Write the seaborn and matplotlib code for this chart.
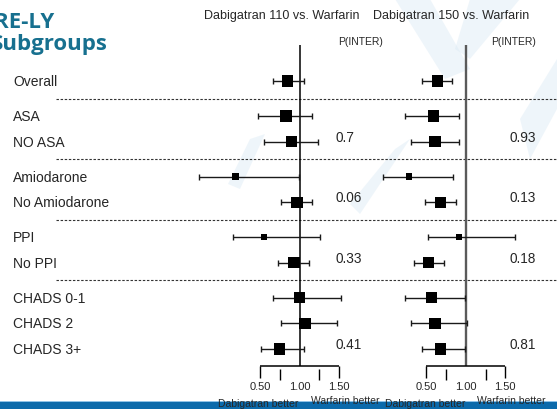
import numpy as np
import pandas as pd
import matplotlib
matplotlib.use("Agg")
import matplotlib.pyplot as plt
from matplotlib.patches import Rectangle, Polygon
import seaborn as sns

# ---- data ----------------------------------------------------------------
subgroups = ["Overall", "ASA", "NO ASA", "Amiodarone", "No Amiodarone",
             "PPI", "No PPI", "CHADS 0-1", "CHADS 2", "CHADS 3+"]
group_id = [0, 1, 1, 2, 2, 3, 3, 4, 4, 4]
box_class = ["large", "large", "large", "small", "large",
             "small", "large", "large", "large", "large"]

d110_est = [0.85, 0.83, 0.90, 0.19, 0.97, 0.55, 0.93, 1.00, 1.07, 0.75]
d110_lo = [0.66, 0.48, 0.55, -0.27, 0.77, 0.16, 0.73, 0.66, 0.76, 0.51]
d110_hi = [1.06, 1.16, 1.23, 0.99, 1.16, 1.26, 1.12, 1.52, 1.47, 1.06]

d150_est = [0.64, 0.59, 0.61, 0.28, 0.68, 0.91, 0.53, 0.57, 0.61, 0.68]
d150_lo = [0.45, 0.23, 0.30, -0.05, 0.48, 0.52, 0.34, 0.23, 0.30, 0.45]
d150_hi = [0.83, 0.91, 0.91, 0.84, 0.88, 1.62, 0.73, 0.99, 1.02, 0.99]

p_groups = [1, 2, 3, 4]
p_inter_110 = ["0.7", "0.06", "0.33", "0.41"]
p_inter_150 = ["0.93", "0.13", "0.18", "0.81"]

panel_titles = ["Dabigatran 110 vs. Warfarin", "Dabigatran 150 vs. Warfarin"]
tick_values = [0.50, 1.00, 1.50]
tick_labels = ["0.50", "1.00", "1.50"]
minor_ticks = [0.75, 1.25]

# ---- style ---------------------------------------------------------------
sns.set_style("white")
plt.rcParams["font.family"] = ["Liberation Sans", "DejaVu Sans"]

W, H = 557, 410
fig = plt.figure(figsize=(W / 100, H / 100), dpi=100)
fig.patch.set_facecolor("white")

# layout: row positions (figure pixels from top)
row_step, group_gap, top_row = 25.6, 9.4, 82.0
ypos = np.array([top_row + i * row_step + g * group_gap
                 for i, g in enumerate(group_id)])

# background / annotation layer in pixel units
bg = fig.add_axes([0, 0, 1, 1])
bg.set_xlim(0, W)
bg.set_ylim(H, 0)
bg.axis("off")

# faint decorative streaks of the slide background
streaks = [
    [(395, 0), (430, 0), (470, 70), (445, 80)],
    [(470, 0), (520, 0), (470, 60), (455, 50)],
    [(395, 150), (410, 140), (360, 215), (350, 205)],
    [(520, 120), (557, 60), (557, 110), (530, 160)],
    [(250, 140), (265, 135), (240, 190), (228, 185)],
]
for pts in streaks:
    bg.add_patch(Polygon(pts, closed=True, color="#dbeaf5", alpha=0.45,
                         lw=0, zorder=0))

# bottom blue band
bg.add_patch(Rectangle((0, 402.5), W, 8, color="#0b6aab", lw=0, zorder=1))
bg.add_patch(Rectangle((0, 402.0), W, 1.2, color="#8fc3e8", lw=0, zorder=1))

# title
title_color = "#17708f"
bg.text(54, 28, "RE-LY", ha="right", va="baseline", fontsize=16,
        fontweight="bold", color=title_color, family=["Open Sans", "DejaVu Sans"])
bg.text(108, 50, "Subgroups", ha="right", va="baseline", fontsize=16,
        fontweight="bold", color=title_color, family=["Open Sans", "DejaVu Sans"])

# panel headers
bg.text(282, 16.5, panel_titles[0], ha="center", va="center", fontsize=9)
bg.text(451, 16.5, panel_titles[1], ha="center", va="center", fontsize=9)
bg.text(361, 42, "P(INTER)", ha="center", va="center", fontsize=7.5)
bg.text(514, 42, "P(INTER)", ha="center", va="center", fontsize=7.5)

# row labels
for lab, y in zip(subgroups, ypos):
    bg.text(13, y, lab, ha="left", va="center", fontsize=10)

# dashed separators between subgroup blocks
for g in range(1, max(group_id) + 1):
    first = group_id.index(g)
    sep_y = (ypos[first - 1] + ypos[first]) / 2
    bg.plot([56, W], [sep_y, sep_y], color="#333333", lw=0.8,
            ls=(0, (2.2, 1.5)), zorder=2)

# ---- forest panels -------------------------------------------------------
px_per_unit = 79.0


def make_panel(left_px, right_px, one_px):
    ax = fig.add_axes([left_px / W, 0, (right_px - left_px) / W, 1])
    ax.set_xlim(1 + (left_px - one_px) / px_per_unit,
                1 + (right_px - one_px) / px_per_unit)
    ax.set_ylim(H, 0)
    ax.patch.set_alpha(0)
    ax.axis("off")
    return ax


panels = [
    (make_panel(190, 370, 299.5), d110_est, d110_lo, d110_hi, p_inter_110,
     "black", 1.1, 1.46),
    (make_panel(372, 557, 465.8), d150_est, d150_lo, d150_hi, p_inter_150,
     "#5a5a5a", 1.7, 1.55),
]

for ax, est, lo, hi, pvals, ref_color, ref_lw, p_x in panels:
    df = pd.DataFrame({"est": est, "lo": lo, "hi": hi, "y": ypos,
                       "box": box_class})
    # reference line at ratio 1
    ax.vlines(1.0, 46, 367, color=ref_color, lw=ref_lw, zorder=1)
    # confidence intervals
    ax.errorbar(df["est"], df["y"],
                xerr=[df["est"] - df["lo"], df["hi"] - df["est"]],
                fmt="none", ecolor="#1a1a1a", elinewidth=1.0,
                capsize=2.4, capthick=1.0, zorder=2)
    # point estimates
    sns.scatterplot(data=df, x="est", y="y", size="box",
                    sizes={"large": 66, "small": 20}, marker="s",
                    color="black", linewidth=0, legend=False, ax=ax, zorder=3)
    ax.set_xlabel("")
    ax.set_ylabel("")
    # bottom scale
    ax.hlines(367, tick_values[0], tick_values[-1], color="black", lw=1.1)
    ax.vlines([tick_values[0], tick_values[-1]], 367, 379, color="black", lw=1.0)
    ax.vlines(minor_ticks, 370, 381, color="black", lw=1.0)
    for v, t in zip(tick_values, tick_labels):
        ax.text(v, 387, t, ha="center", va="center", fontsize=8)
    ax.text(0.48, 404, "Dabigatran better", ha="center", va="center",
            fontsize=7.5, zorder=5)
    ax.text(1.58, 401.5, "Warfarin better", ha="center", va="center",
            fontsize=7.5, zorder=5)
    # interaction p-values on the last row of each block
    for g, p in zip(p_groups, pvals):
        last = len(group_id) - 1 - group_id[::-1].index(g)
        ax.text(p_x, ypos[last] - 5, p, ha="left", va="center", fontsize=9.8)

fig.savefig("out.png", dpi=100, facecolor="white")
